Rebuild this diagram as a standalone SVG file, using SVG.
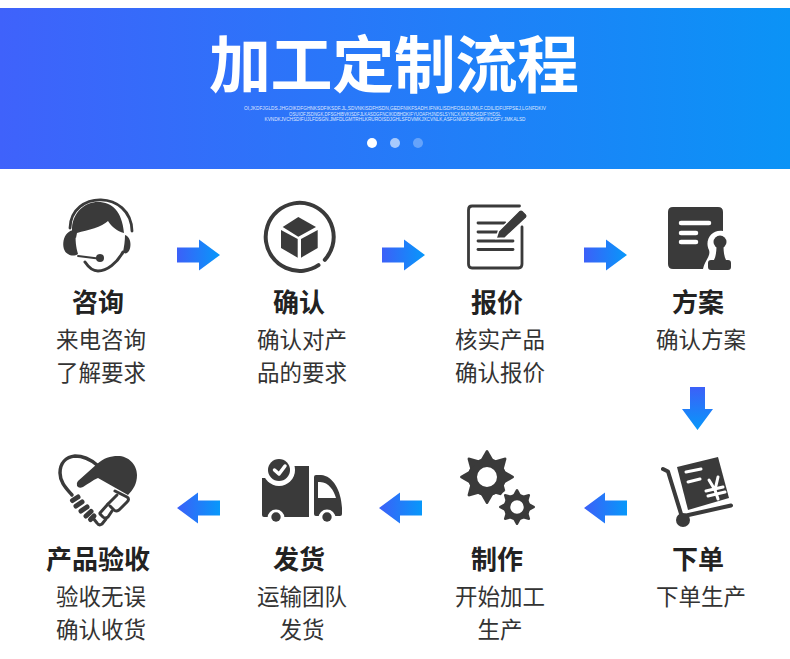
<svg xmlns="http://www.w3.org/2000/svg" width="790" height="659" viewBox="0 0 790 659">
<defs>
<linearGradient id="hdr" x1="0" y1="0" x2="1" y2="0"><stop offset="0" stop-color="#3f62fb"/><stop offset="1" stop-color="#0b93f6"/></linearGradient>
<linearGradient id="ar" x1="0" y1="0" x2="1" y2="0"><stop offset="0" stop-color="#3c60f8"/><stop offset="1" stop-color="#0798fa"/></linearGradient>
<linearGradient id="arD" x1="0" y1="0" x2="0" y2="1"><stop offset="0" stop-color="#3c60f8"/><stop offset="1" stop-color="#0798fa"/></linearGradient>
<path id="right" d="M0 -7.500H22V-15.500L43 0L22 15.500V7.500H0Z" fill="url(#ar)"/>
<path id="left" d="M0 0L21 -15.500V-7.500H43V7.500H21V15.500Z" fill="url(#ar)"/>
<path id="th" d="M-6.500 -17L-1 -26.500Q0 -27.500 1 -26.500L6.500 -17Z" fill="#3a3a3a"/>
<path id="th2" d="M-4.500 -11L-1 -17.500Q0 -18.500 1 -17.500L4.500 -11Z" fill="#3a3a3a"/>
</defs>
<style>
.t{font-family:"Noto Sans CJK SC","Noto Sans",sans-serif;text-anchor:middle;fill:#333}
.h{font-size:26px;font-weight:700;fill:#222}
.s{font-size:22.500px;font-weight:400}
.i{fill:#3a3a3a}
.l{fill:none;stroke:#3a3a3a;stroke-linecap:round;stroke-linejoin:round}
.w{fill:none;stroke:#fff;stroke-linecap:round;stroke-linejoin:round}
.m{font-family:"Liberation Sans",sans-serif;font-size:4.700px;fill:#fff;fill-opacity:.85;text-anchor:middle}
</style>
<rect width="790" height="659" fill="#fff"/>
<g id="header">
<rect y="8" width="790" height="161" fill="url(#hdr)"/>
<text x="394" y="87.500" font-family="'Noto Sans CJK SC',sans-serif" font-size="62" font-weight="700" fill="#fff" text-anchor="middle" textLength="370">加工定制流程</text>
<text class="m" x="395" y="110" textLength="302" lengthAdjust="spacingAndGlyphs">OI,JKDFJGLDS.JHGOIKDFGHNKSDFIKSDF.JL,SDVNKISDFHSDN,GEDFNIKFSADH.IFNKLISDHFOSLDIJMLF.CDILIDFIJFPSEJ,LGNFDKIV</text>
<text class="m" x="395" y="115.500" textLength="212" lengthAdjust="spacingAndGlyphs">OSUIOFJSDNGK,DFSGHIBVKISDFJLKASDGFNCIKIDBHDKIFYUOAFHJNDSLSYNCX,MVNBASDIFYHDSL</text>
<text class="m" x="395" y="121" textLength="261" lengthAdjust="spacingAndGlyphs">KVNDKJVCHSDIFUJLFDSGN.JMFDLGMTRHLKRUROISDJGHLSFDVMKJXCVNLK,ASFGNKDFJGHIBVIKDSFY.JMKALSD</text>
<circle cx="372" cy="143" r="5" fill="#fff"/>
<circle cx="395" cy="143" r="5" fill="#fff" fill-opacity=".6"/>
<circle cx="418" cy="143" r="5" fill="#fff" fill-opacity=".3"/>
</g>
<g id="connectors">
<use href="#right" x="177" y="255"/>
<use href="#right" x="382" y="255"/>
<use href="#right" x="584" y="255"/>
<path d="M690 387H705V409H713L697.500 430L682 409H690Z" fill="url(#arD)"/>
<use href="#left" x="584" y="508"/>
<use href="#left" x="379" y="508"/>
<use href="#left" x="177" y="508"/>
</g>
<g id="node-consult">
<path class="l" stroke-width="2.800" d="M70 228C71 190 131 190 132 231"/>
<path class="i" d="M72 228C73 212 85 202 98 202C112 202 122 211 124 233C117 231 112 227 108 221C102 227 88 230 77 233L76 238L72 236Z"/>
<path class="i" d="M76 230C62 229 60 250 68 254C71 256 75 256 78 254C76 247 75 240 76 230Z"/>
<path class="i" d="M125 235C132 237 132 250 127 253C125 254 124 253 123 252C124 247 125 241 125 235Z"/>
<path class="l" stroke-width="3" d="M85 262C89 268 93 271 98 271C107 271 117 263 123 252"/>
<path class="l" stroke-width="1.800" d="M78 256L98 258.500"/>
<circle class="i" cx="100" cy="258" r="4"/>
</g>
<g id="node-confirm">
<path class="l" stroke-width="4" d="M324.800 259.800A34 34 0 1 0 318.500 265.200"/>
<path class="i" d="M298.300 217L316 227L298.300 236.700L282.700 227Z"/>
<path class="i" d="M281 230L297.700 239V257.700L281 248Z"/>
<path class="i" d="M317.700 230V248L301 257.700V239Z"/>
</g>
<g id="node-quote">
<path class="l" stroke-width="2.800" d="M519.500 206H472Q468.500 206 468.500 210V264Q468.500 268 472 268H518.500Q522 268 522 264V227"/>
<g class="l" stroke-width="2.800"><path d="M478 223H505"/><path d="M478 232H497"/><path d="M478 241H513"/><path d="M478 249.500H513"/></g>
<path d="M496 238.500L498.500 231L519 210.500Q521 209 523 210.500L526.500 214Q528 216 526.500 218L505 238Z" fill="#3a3a3a" stroke="#fff" stroke-width="1.500"/>
</g>
<g id="node-plan">
<path class="i" d="M673 207H718Q723 207 723 212V231C712 229 704 240 709 250C711 256 705 260 703 269H673Q668 269 668 264V212Q668 207 673 207Z"/>
<g class="w" stroke-width="4.500"><path d="M681 223H709"/><path d="M681 233H696"/><path d="M681 242H696"/></g>
<circle class="i" cx="720" cy="242" r="6.500"/>
<path class="i" d="M716.500 245H723.500C723.500 251 724 256 726 260H728Q731 260 731 263V267Q731 270 728 270H711Q708 270 708 267V263Q708 260 711 260H714C716 256 716.500 251 716.500 245Z"/>
</g>
<g id="node-order">
<g class="l" stroke-width="4"><path d="M663 469L668 471.500L682 517"/><path d="M684 516L731 505.500"/></g>
<circle class="i" cx="683" cy="520" r="7"/>
<path class="i" d="M677 467L718 457L729 498L688 510Z"/>
<g class="w" stroke-width="3"><path d="M686 472L701 469"/><path d="M688 482L700 479"/><path d="M709 480L715 490L718 477"/><path d="M706 491L723 487"/><path d="M708 496L725 492"/><path d="M715 490L718 499"/></g>
</g>
<g id="node-make">
<g transform="translate(487 477)"><circle class="l" r="14.500" stroke-width="9"/>
<use href="#th"/><use href="#th" transform="rotate(45)"/><use href="#th" transform="rotate(90)"/><use href="#th" transform="rotate(135)"/><use href="#th" transform="rotate(180)"/><use href="#th" transform="rotate(225)"/><use href="#th" transform="rotate(270)"/><use href="#th" transform="rotate(315)"/></g>
<circle cx="517" cy="507" r="20" fill="#fff"/>
<g transform="translate(517 507)"><circle class="l" r="10" stroke-width="6.500"/>
<use href="#th2"/><use href="#th2" transform="rotate(45)"/><use href="#th2" transform="rotate(90)"/><use href="#th2" transform="rotate(135)"/><use href="#th2" transform="rotate(180)"/><use href="#th2" transform="rotate(225)"/><use href="#th2" transform="rotate(270)"/><use href="#th2" transform="rotate(315)"/></g>
</g>
<g id="node-ship">
<path class="i" d="M262 478H279V466H309V517H264Q262 517 262 515Z"/>
<path d="M316 475H321C333 476 341 490 342 508V514Q342 516 340 516H316Q314 516 314 514V477Q314 475 316 475ZM318 482V498H336C334 491 329 482 320 482Z" fill="#3a3a3a" fill-rule="evenodd"/>
<circle cx="279" cy="470" r="16" fill="#fff"/>
<circle class="i" cx="279" cy="470" r="11"/>
<path class="w" stroke-width="3.500" d="M274.500 470L279 474L285 466"/>
<circle cx="276" cy="518" r="8.500" fill="#fff"/>
<circle cx="327" cy="518" r="8.500" fill="#fff"/>
<circle class="i" cx="276" cy="517" r="4.700"/>
<circle class="i" cx="327" cy="517" r="4.700"/>
</g>
<g id="node-done">
<path class="l" stroke-width="3.500" d="M72 495C66 488 60 482 60 473C60 463 66 457 75 456C83 456 90 459 97 465"/>
<path class="i" d="M78 481L97 464C104 458 110 456 118 456C128 456 137 464 137 475C137 484 133 490 128 495L98 478C93 480 88 484 83 487Q79 489 77 486Q76 483 78 481Z"/>
<g class="l" stroke-width="5"><path d="M72.500 500.500L78 497"/><path d="M76 506L82 502"/><path d="M81 511L87 507"/><path d="M86 516L91 511.500"/><path d="M90.500 519.500L94 516"/></g>
<g class="l" stroke-width="3"><path d="M115 491L127 497Q130 499 127 502L119 510Q116 512 114 510L110 506"/><path d="M117 495L108 504"/><path d="M112 511L108 517Q105 519 103 517L100 514"/><path d="M108 504L100 513"/><path d="M106 519L102 524Q99 526 97 523L93 518"/></g>
</g>
<g id="label-consult"><text class="t h" x="98" y="312">咨询</text><text class="t s" x="101" y="348">来电咨询</text><text class="t s" x="101" y="381">了解要求</text></g>
<g id="label-confirm"><text class="t h" x="299" y="312">确认</text><text class="t s" x="302" y="348">确认对产</text><text class="t s" x="302" y="381">品的要求</text></g>
<g id="label-quote"><text class="t h" x="497" y="312">报价</text><text class="t s" x="500" y="348">核实产品</text><text class="t s" x="500" y="381">确认报价</text></g>
<g id="label-plan"><text class="t h" x="698" y="312">方案</text><text class="t s" x="701" y="348">确认方案</text></g>
<g id="label-order"><text class="t h" x="698" y="569">下单</text><text class="t s" x="701" y="605">下单生产</text></g>
<g id="label-make"><text class="t h" x="497" y="569">制作</text><text class="t s" x="500" y="605">开始加工</text><text class="t s" x="500" y="638">生产</text></g>
<g id="label-ship"><text class="t h" x="299" y="569">发货</text><text class="t s" x="302" y="605">运输团队</text><text class="t s" x="302" y="638">发货</text></g>
<g id="label-done"><text class="t h" x="98" y="569">产品验收</text><text class="t s" x="101" y="605">验收无误</text><text class="t s" x="101" y="638">确认收货</text></g>
</svg>
